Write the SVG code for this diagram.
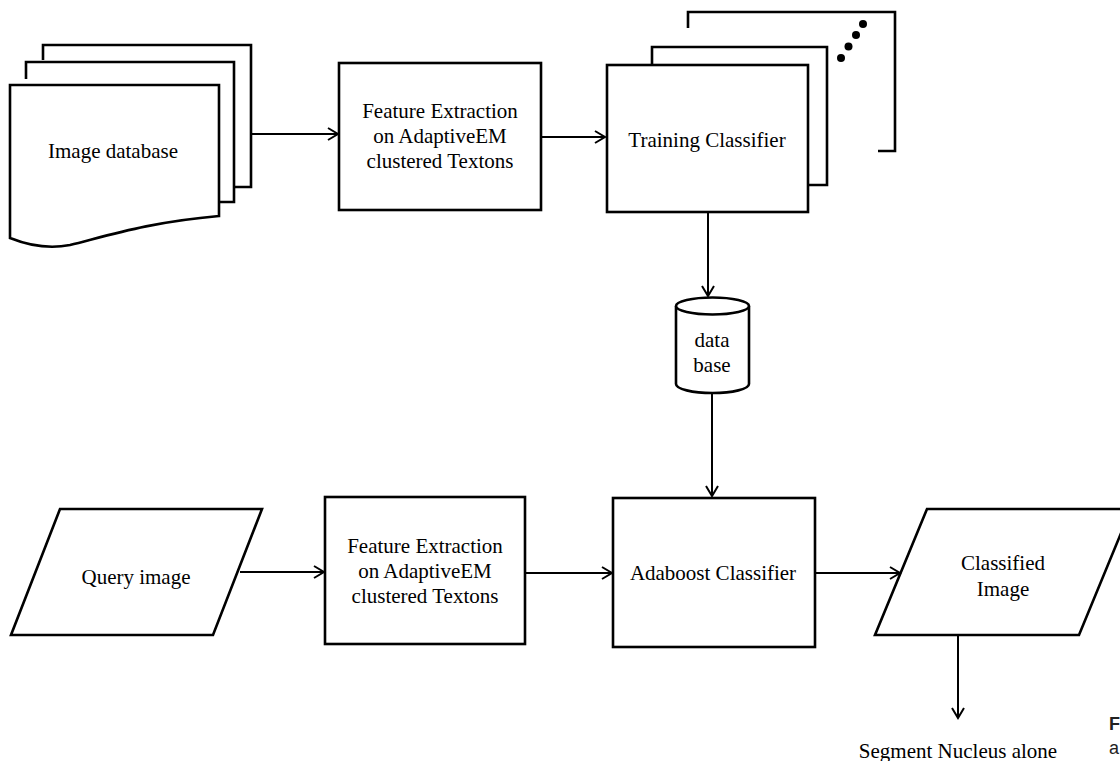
<svg xmlns="http://www.w3.org/2000/svg" width="1120" height="761" viewBox="0 0 1120 761">
<style>
.s{fill:#fff;stroke:#000;stroke-width:2.6;stroke-linejoin:miter}
.o{fill:none;stroke:#000;stroke-width:2.6}
.t{font-family:"Liberation Serif","Times New Roman",serif;font-size:21px;fill:#000;text-anchor:middle}
.c{fill:none;stroke:#000;stroke-width:2}
.f{font-family:"Liberation Sans",Arial,sans-serif;font-size:18px;font-weight:bold;fill:#222}
.g{font-family:"Liberation Sans",Arial,sans-serif;font-size:18px;fill:#222}
</style>
<defs>
<marker id="ah" markerWidth="16" markerHeight="16" refX="13" refY="8" orient="auto" markerUnits="userSpaceOnUse">
<path d="M3,2 L13,8 L3,14" fill="none" stroke="#000" stroke-width="2"/>
</marker>
</defs>
<rect width="1120" height="761" fill="#fff"/>
<g id="image-database">
<path class="s" d="M43,60 V45 H251 V187 H234"/>
<path class="s" d="M26,79 V62 H234 V202 H219"/>
<path class="s" d="M10,85 H219 V216 C150,222 110,235 70,245 C45,250 25,244 10,238 Z"/>
<text class="t" x="113" y="158">Image database</text>
</g>
<g id="feature-extraction-1">
<rect class="s" x="339" y="63" width="202" height="147"/>
<text class="t" x="440" y="118">Feature Extraction</text>
<text class="t" x="440" y="143">on AdaptiveEM</text>
<text class="t" x="440" y="168">clustered Textons</text>
</g>
<g id="training-classifier">
<path class="o" d="M688,28 V12 H895 V151 H878"/>
<circle cx="841" cy="58" r="4"/>
<circle cx="848.5" cy="46.5" r="4"/>
<circle cx="856" cy="35" r="4"/>
<circle cx="863" cy="24" r="4"/>
<path class="s" d="M652,65 V47 H827 V185 H808"/>
<rect class="s" x="607" y="65" width="201" height="147"/>
<text class="t" x="707" y="147">Training Classifier</text>
</g>
<g id="database">
<path class="s" d="M676,306 V384 A36.5,9 0 0 0 749,384 V306"/>
<ellipse class="s" cx="712.5" cy="306" rx="36.5" ry="8.5"/>
<text class="t" x="712" y="347">data</text>
<text class="t" x="712" y="372">base</text>
</g>
<g id="query-image">
<path class="s" d="M60,509 H262 L213,635 H11 Z"/>
<text class="t" x="136" y="584">Query image</text>
</g>
<g id="feature-extraction-2">
<rect class="s" x="325" y="497" width="200" height="147"/>
<text class="t" x="425" y="553">Feature Extraction</text>
<text class="t" x="425" y="578">on AdaptiveEM</text>
<text class="t" x="425" y="603">clustered Textons</text>
</g>
<g id="adaboost-classifier">
<rect class="s" x="613" y="498" width="202" height="149"/>
<text class="t" x="713" y="580">Adaboost Classifier</text>
</g>
<g id="classified-image">
<path class="s" d="M927,509 H1131 L1079,635 H875 Z"/>
<text class="t" x="1003" y="570">Classified</text>
<text class="t" x="1003" y="596">Image</text>
</g>
<g id="output-label">
<text class="t" x="958" y="758">Segment Nucleus alone</text>
</g>
<g id="connectors">
<line class="c" x1="251" y1="134" x2="338" y2="134" marker-end="url(#ah)"/>
<line class="c" x1="541" y1="137" x2="605" y2="137" marker-end="url(#ah)"/>
<line class="c" x1="708" y1="212" x2="708" y2="296" marker-end="url(#ah)"/>
<line class="c" x1="712" y1="393" x2="712" y2="496" marker-end="url(#ah)"/>
<line class="c" x1="240" y1="572" x2="324" y2="572" marker-end="url(#ah)"/>
<line class="c" x1="525" y1="573" x2="612" y2="573" marker-end="url(#ah)"/>
<line class="c" x1="815" y1="573" x2="900" y2="573" marker-end="url(#ah)"/>
<line class="c" x1="958" y1="635" x2="958" y2="718" marker-end="url(#ah)"/>
</g>
<text class="f" x="1109" y="730">F</text>
<text class="g" x="1109" y="754">a</text>
</svg>
